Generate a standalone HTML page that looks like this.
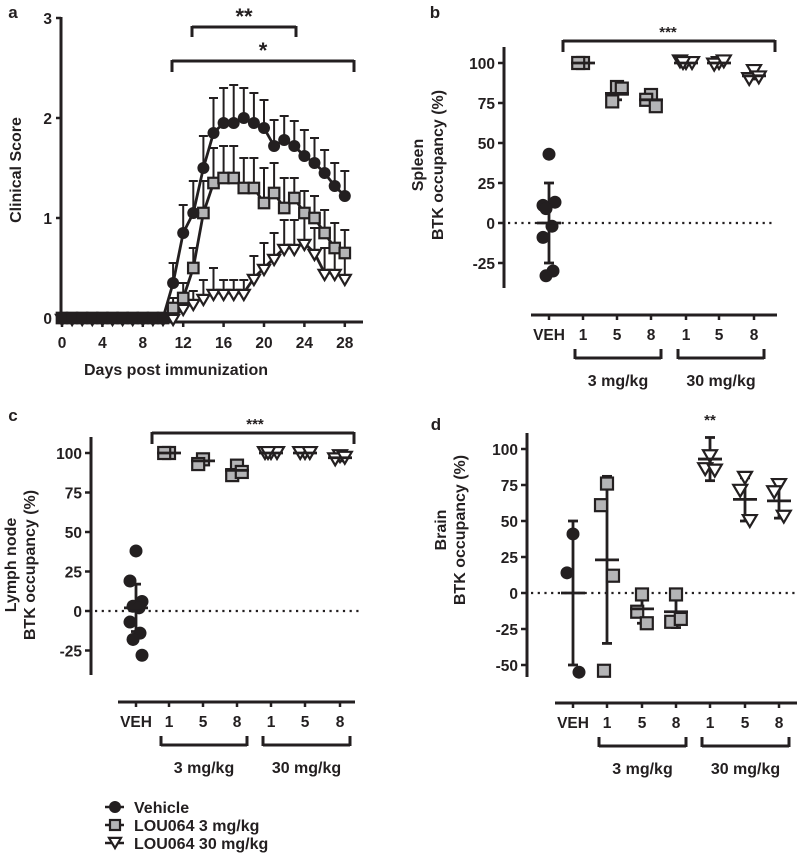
<!DOCTYPE html>
<html><head><meta charset="utf-8"><style>
body{margin:0;background:#fff}
svg text{font-family:"Liberation Sans",sans-serif;font-weight:bold;fill:#231f20}
</style></head><body>
<svg id="s" width="797" height="853" viewBox="0 0 797 853" xmlns="http://www.w3.org/2000/svg"></svg>
<script>
// ---- Panel a data ----
const days = [0,1,2,3,4,5,6,7,8,9,10,11,12,13,14,15,16,17,18,19,20,21,22,23,24,25,26,27,28];
const vehMean = [0,0,0,0,0,0,0,0,0,0,0,0.35,0.85,1.05,1.5,1.85,1.95,1.95,2.0,1.95,1.9,1.72,1.78,1.72,1.62,1.55,1.45,1.32,1.22];
const vehErr  = [0,0,0,0,0,0,0,0,0,0,0,0.2,0.28,0.32,0.32,0.35,0.35,0.38,0.3,0.3,0.28,0.26,0.24,0.25,0.26,0.25,0.23,0.23,0.25];
const lo3Mean = [0,0,0,0,0,0,0,0,0,0,0,0.1,0.2,0.5,1.05,1.35,1.4,1.4,1.3,1.3,1.15,1.25,1.1,1.2,1.05,1.0,0.85,0.7,0.65];
const lo3Err  = [0,0,0,0,0,0,0,0,0,0,0,0.1,0.15,0.2,0.32,0.35,0.32,0.32,0.3,0.3,0.35,0.3,0.3,0.2,0.22,0.22,0.23,0.25,0.23];
const lo30Mean= [0,0,0,0,0,0,0,0,0,0,0,0,0.1,0.15,0.2,0.25,0.25,0.25,0.25,0.4,0.5,0.6,0.7,0.7,0.75,0.65,0.45,0.45,0.4];
const lo30Err = [0,0,0,0,0,0,0,0,0,0,0,0,0,0.12,0.18,0.25,0.13,0.13,0.13,0.22,0.25,0.25,0.28,0.28,0.25,0.25,0.25,0.2,0.2];
const aYTicks = [0,1,2,3];
const aXTicks = [0,4,8,12,16,20,24,28];
// ---- Scatter panels data ----
const cats = ["VEH","1","5","8","1","5","8"];
const spleenVals = [[43,11,13,9,-2,-9,-30,-33],[100,100],[85,76,84],[80,77,73],[100,101,100,100],[100,99,101],[95,90,91]];
const spleenMean = [0,100,81,77,100,100,92];
const spleenSD   = [25,1,4,3,1,1,2];
const lnVals = [[38,19,6,3,2,-7,-14,-18,-28],[100,100],[96,93],[92,86,88],[100,100,100,100],[100,100,100],[98,96,97]];
const lnMean = [2,100,95,89,100,100,97];
const lnSD   = [15,1,2,3,1,1,2];
const brainVals = [[41,14,-55],[76,61,12,-54],[-1,-13,-21],[-1,-20,-18],[95,86,85],[80,71,50],[75,70,53]];
const brainMean = [0,23,-11,-13,93,65,64];
const brainSD   = [50,58,10,11,15,15,12];
const occTicks = [100,75,50,25,0,-25];
const brainTicks = [100,75,50,25,0,-25,-50];

const S=document.getElementById('s');const NS='http://www.w3.org/2000/svg';
const K='#231f20';
function el(t,a,p){const e=document.createElementNS(NS,t);for(const k in a)e.setAttribute(k,a[k]);(p||S).appendChild(e);return e;}
function line(x1,y1,x2,y2,w,name,extra){const e=el('line',Object.assign({x1,y1,x2,y2,stroke:K,'stroke-width':w||2},extra||{}));

return e;}
function txt(x,y,s,size,name,anchor,rot){const e=el('text',{x,y,'font-size':size,'text-anchor':anchor||'middle'});if(rot)e.setAttribute('transform',`rotate(-90 ${x} ${y})`);e.textContent=s;

return e;}
function marker(kind,x,y,sz,name){let e;
 if(kind==='c'){e=el('circle',{cx:x,cy:y,r:sz/2,fill:K});}
 else if(kind==='s'){e=el('rect',{x:x-sz/2,y:y-sz/2,width:sz,height:sz,fill:'#b4b4b6',stroke:K,'stroke-width':2.2});}
 else {const h=sz*0.85;e=el('polygon',{points:`${x-sz/2},${y-h/2} ${x+sz/2},${y-h/2} ${x},${y+h/2}`,fill:'#fff',stroke:K,'stroke-width':2.2});}
 
 return e;}

// ---- Panel a ----
const ax=d=>62+d*10.1, ay=v=>318-v*100;
txt(13,18,'a',17,'panel-a-label');
line(61,17,61,322,3,'a-y-axis');
line(58,322,363,322,3,'a-x-axis');
aYTicks.forEach(t=>{line(56,ay(t),61,ay(t),2.5,'a-y-tick');txt(52,ay(t)+6,String(t),15.5,'a-y-tick-label','end');});
aXTicks.forEach(t=>{line(ax(t),322,ax(t),327,2.5,'a-x-tick');txt(ax(t),348,String(t),15.5,'a-x-tick-label');});
txt(176,375,'Days post immunization',16,'a-x-axis-title');
txt(21,170,'Clinical Score',16,'a-y-axis-title','middle',true);
line(192,27,296,27,3,'a-bracket-double');line(192,26,192,37,3,'a-bracket-tick');line(296,26,296,37,3,'a-bracket-tick');
txt(244,24,'**',22,'a-significance-double');
line(172,61,354,61,3,'a-bracket-single');line(172,60,172,72,3,'a-bracket-tick');line(354,60,354,72,3,'a-bracket-tick');
txt(263,58,'*',22,'a-significance-single');
function series(mean,err,kind,sz,name){
 days.forEach((d,i)=>{if(err[i]>0){const y0=ay(mean[i]),y1=ay(mean[i]+err[i]);line(ax(d),y0,ax(d),y1,2,name+'-error-bar');line(ax(d)-4.5,y1,ax(d)+4.5,y1,2,name+'-error-cap');}});
 const p=el('polyline',{points:days.map((d,i)=>ax(d)+','+ay(mean[i])).join(' '),fill:'none',stroke:K,'stroke-width':2.8});
 
 
 days.forEach((d,i)=>marker(kind,ax(d),ay(mean[i])+(kind==='t'?2:0),sz,name+'-point'));
}
series(lo30Mean,lo30Err,'t',12,'lou064-30');
series(lo3Mean,lo3Err,'s',10.5,'lou064-3');
series(vehMean,vehErr,'c',12,'vehicle');

// ---- scatter panel generic ----
function scatter(cfg){
 const {axX,y0,k,top,bot,cx,xAxY,xAxL,xAxR,vals,mean,sd,ticks,name}=cfg;
 const sy=v=>y0-v*k;
 line(axX,top,axX,bot,3,name+'-y-axis');
 ticks.forEach(t=>{line(axX-6,sy(t),axX,sy(t),2.5,name+'-y-tick');txt(axX-9,sy(t)+6,String(t),15.5,name+'-y-tick-label','end');});
 line(axX+4,y0,cx[6]+22,y0,2.2,name+'-zero-line',{'stroke-dasharray':'2.2 4.5'});
 line(xAxL,xAxY,xAxR,xAxY,3,name+'-x-axis');
 cats.forEach((c,i)=>{line(cx[i],xAxY,cx[i],xAxY+5,2.5,name+'-x-tick');txt(cx[i],xAxY+25,c,15.5,name+'-x-tick-label');});
 const by=xAxY+43;
 [[1,3,'3 mg/kg'],[4,6,'30 mg/kg']].forEach(([a,b,l])=>{const x1=cx[a]-8,x2=cx[b]+10;
  line(x1,by,x2,by,3,name+'-dose-bracket');line(x1,by-9,x1,by+1,3,name+'-dose-bracket-tick');line(x2,by-9,x2,by+1,3,name+'-dose-bracket-tick');
  txt((x1+x2)/2,by+28,l,16,name+'-dose-label');});
 const kinds=['c','s','s','s','t','t','t'];
 vals.forEach((g,i)=>{
  const m=mean[i],s=sd[i];
  line(cx[i],sy(m+s),cx[i],sy(m-s),2.8,name+'-sd-bar');
  line(cx[i]-5,sy(m+s),cx[i]+5,sy(m+s),2.8,name+'-sd-cap');line(cx[i]-5,sy(m-s),cx[i]+5,sy(m-s),2.8,name+'-sd-cap');
  const offs=g.length>=5?[0,-6,6,-3,3,-6,4,-3,6]:[0,-6,6,-3,3];
  g.forEach((v,j)=>marker(kinds[i],cx[i]+offs[j%offs.length]*(g.length<=3&&kinds[i]!=='c'?0.8:1),sy(v),kinds[i]==='c'?13:kinds[i]==='s'?12:14,name+'-point'));
  line(cx[i]-12,sy(m),cx[i]+12,sy(m),2.8,name+'-mean-line');
 });
 return sy;
}
// Panel b
txt(435,18,'b',17,'panel-b-label');
scatter({axX:504,y0:223,k:1.6,top:47,bot:288,cx:[549,583,617,651,686,719,754],xAxY:315,xAxL:531,xAxR:777,vals:spleenVals,mean:spleenMean,sd:spleenSD,ticks:occTicks,name:'spleen'});
line(563,41,775,41,3,'b-sig-bracket');line(563,40,563,52,3,'b-sig-tick');line(775,40,775,52,3,'b-sig-tick');
txt(668,37,'***',15,'b-significance');
txt(423,165,'Spleen',16,'b-y-axis-title-1','middle',true);
txt(443,165,'BTK occupancy (%)',16,'b-y-axis-title-2','middle',true);
// Panel c
txt(13,421,'c',17,'panel-c-label');
scatter({axX:91,y0:611,k:1.58,top:437,bot:675,cx:[136,169,203,237,271,305,340],xAxY:702,xAxL:118,xAxR:355,vals:lnVals,mean:lnMean,sd:lnSD,ticks:occTicks,name:'lymph'});
line(152,433,354,433,3,'c-sig-bracket');line(152,432,152,444,3,'c-sig-tick');line(354,432,354,444,3,'c-sig-tick');
txt(255,429,'***',15,'c-significance');
txt(16,565,'Lymph node',16,'c-y-axis-title-1','middle',true);
txt(35,565,'BTK occupancy (%)',16,'c-y-axis-title-2','middle',true);
// Panel d
txt(436,430,'d',17,'panel-d-label');
scatter({axX:527,y0:593,k:1.44,top:433,bot:677,cx:[573,607,642,676,710,745,779],xAxY:703,xAxL:555,xAxR:797,vals:brainVals,mean:brainMean,sd:brainSD,ticks:brainTicks,name:'brain'});
txt(710,425,'**',15,'d-significance');
txt(446,530,'Brain',16,'d-y-axis-title-1','middle',true);
txt(465,530,'BTK occupancy (%)',16,'d-y-axis-title-2','middle',true);
// Legend
[['c','Vehicle',807],['s','LOU064 3 mg/kg',825],['t','LOU064 30 mg/kg',843]].forEach(([k,l,y])=>{
 line(105,y,124,y,2.5,'legend-line');
 marker(k,115,y,k==='c'?12:k==='s'?10:12,'legend-marker');
 txt(134,y+6,l,16,'legend-entry','start');
});
</script>
</body></html>
